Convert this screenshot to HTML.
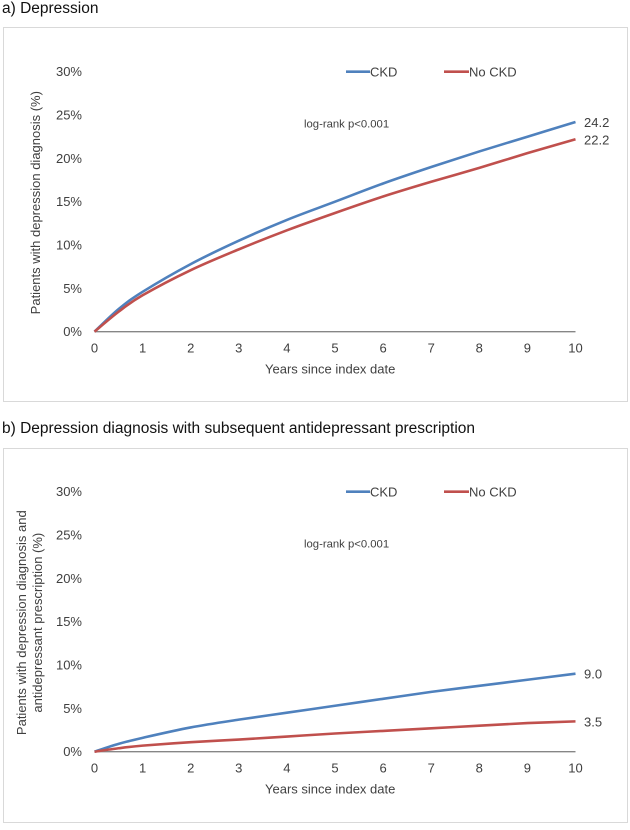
<!DOCTYPE html>
<html><head><meta charset="utf-8">
<style>
html,body{margin:0;padding:0;background:#fff;}
body{width:630px;height:825px;overflow:hidden;font-family:"Liberation Sans",Arial,sans-serif;}
svg text{font-family:"Liberation Sans",Arial,sans-serif;fill:#404040;}
</style></head>
<body>
<svg id="svg" width="630" height="825" viewBox="0 0 630 825" xmlns="http://www.w3.org/2000/svg">
<text x="2" y="13" font-size="15.5" style="fill:#111">a)  Depression</text>
<rect x="3.5" y="27.5" width="624" height="374" fill="none" stroke="#d9d9d9"/>
<text x="2" y="433" font-size="15.5" style="fill:#111">b)  Depression diagnosis with subsequent antidepressant prescription</text>
<rect x="3.5" y="448.5" width="624" height="374" fill="none" stroke="#d9d9d9"/>
<g id="ca"></g>
<g id="cb"></g>
</svg>
<script>
const years = [0,0.5,1,2,3,4,5,6,7,8,9,10];
const ckdA = [0,2.6,4.6,7.8,10.5,12.9,15.0,17.1,19.0,20.8,22.5,24.2];
const noCkdA = [0,2.3,4.2,7.1,9.5,11.7,13.7,15.6,17.3,18.9,20.6,22.2];
const ckdB = [0,0.9,1.6,2.8,3.7,4.5,5.3,6.1,6.9,7.6,8.3,9.0];
const noCkdB = [0,0.4,0.7,1.1,1.4,1.75,2.1,2.4,2.7,3.0,3.3,3.5];
const endLabelsA = ["24.2","22.2"];
const endLabelsB = ["9.0","3.5"];
const yTicks = [0,5,10,15,20,25,30];
const xTicks = [0,1,2,3,4,5,6,7,8,9,10];
const NS="http://www.w3.org/2000/svg";
function mk(tag,attrs,parent){const e=document.createElementNS(NS,tag);for(const k in attrs)e.setAttribute(k,attrs[k]);parent.appendChild(e);return e;}
function smooth(pts){
  let d='M'+pts[0][0]+','+pts[0][1];
  for(let i=0;i<pts.length-1;i++){
    const p0=pts[Math.max(i-1,0)],p1=pts[i],p2=pts[i+1],p3=pts[Math.min(i+2,pts.length-1)];
    const c1=[p1[0]+(p2[0]-p0[0])/6,p1[1]+(p2[1]-p0[1])/6];
    const c2=[p2[0]-(p3[0]-p1[0])/6,p2[1]-(p3[1]-p1[1])/6];
    d+=' C'+c1[0]+','+c1[1]+' '+c2[0]+','+c2[1]+' '+p2[0]+','+p2[1];
  }
  return d;
}
function chart(g,y0,ytitle,s1,s2,labels,prefix){
  const X=v=>94.5+v*48.1;
  const Y=v=>y0-v*(260/30);
  yTicks.forEach(t=>{const e=mk('text',{x:82,y:Y(t)+4.5,'font-size':13,'text-anchor':'end'},g);e.textContent=t+'%';
    
    });
  xTicks.forEach(t=>{const e=mk('text',{x:X(t),y:y0+21,'font-size':13,'text-anchor':'middle'},g);e.textContent=t;
    
    });
  const ax=mk('line',{x1:X(0),x2:X(10),y1:y0,y2:y0,stroke:'#868686','stroke-width':1.3},g);
  
  
  const xt=mk('text',{x:X(4.9),y:y0+42,'font-size':13,'text-anchor':'middle'},g);xt.textContent='Years since index date';
  
  
  const yt=mk('text',{transform:'rotate(-90)','font-size':13,'text-anchor':'middle'},g);
  
  
  const cy=y0-129;
  if(ytitle.length===1){yt.setAttribute('x',-cy);yt.setAttribute('y',40);yt.textContent=ytitle[0];}
  else{ytitle.forEach((t,i)=>{const ts=mk('tspan',{x:-cy,y:26+i*16},yt);ts.textContent=t;});}
  [[s1,'#4f81bd','ckd'],[s2,'#c0504d','no-ckd']].forEach(([s,c,n],k)=>{
    const p=mk('path',{d:smooth(s.map((v,i)=>[X(years[i]),Y(v)])),fill:'none',stroke:c,'stroke-width':2.6,'stroke-linejoin':'round'},g);
    
    
    const l=mk('text',{x:584,y:Y(s[s.length-1])+5,'font-size':13},g);l.textContent=labels[k];
    
    
  });
  const ly=y0-260;
  mk('line',{x1:346,x2:370,y1:ly,y2:ly,stroke:'#4f81bd','stroke-width':2.6},g);
  const l1=mk('text',{x:370,y:ly+5,'font-size':13},g);l1.textContent='CKD';
  
  
  mk('line',{x1:444,x2:469,y1:ly,y2:ly,stroke:'#c0504d','stroke-width':2.6},g);
  const l2=mk('text',{x:469,y:ly+5,'font-size':13},g);l2.textContent='No CKD';
  
  
  const lr=mk('text',{x:304,y:y0-204,'font-size':11.3},g);lr.textContent='log-rank p<0.001';
  
  
}
chart(document.getElementById('ca'),331.7,['Patients with depression diagnosis (%)'],ckdA,noCkdA,endLabelsA,'a');
chart(document.getElementById('cb'),751.7,['Patients with depression diagnosis and','antidepressant prescription (%)'],ckdB,noCkdB,endLabelsB,'b');
</script>
</body></html>
